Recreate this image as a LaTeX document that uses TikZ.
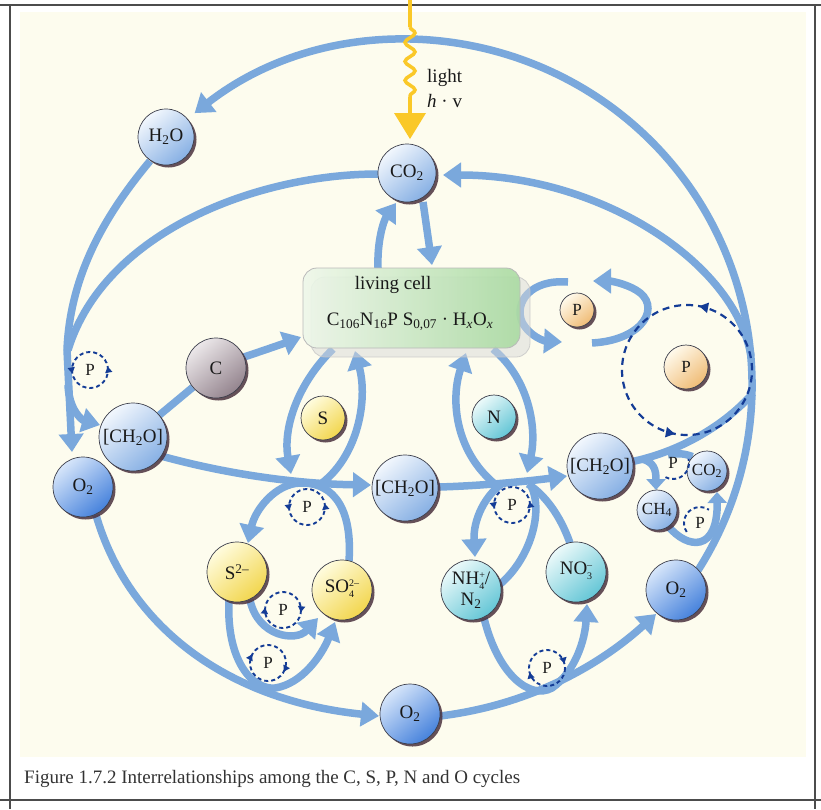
\documentclass[tikz,border=0pt]{standalone}
\usepackage{fontspec}
\setmainfont{Liberation Serif}
\usetikzlibrary{arrows.meta,decorations.pathmorphing,decorations.markings,shadows}
\definecolor{lineblue}{RGB}{122,168,220}
\definecolor{dashblue}{RGB}{20,60,150}
\definecolor{shadowc}{RGB}{75,50,62}
\definecolor{ballline}{RGB}{60,62,75}
\definecolor{lightyel}{RGB}{250,200,40}
\definecolor{panel}{RGB}{253,252,238}
\definecolor{bTop}{RGB}{242,247,253}\definecolor{bBot}{RGB}{135,176,228}
\definecolor{oTop}{RGB}{215,230,250}\definecolor{oBot}{RGB}{70,130,220}
\definecolor{cTop}{RGB}{236,232,234}\definecolor{cBot}{RGB}{148,132,142}
\definecolor{sTop}{RGB}{255,252,222}\definecolor{sBot}{RGB}{242,214,78}
\definecolor{nTop}{RGB}{236,250,250}\definecolor{nBot}{RGB}{100,198,214}
\definecolor{pTop}{RGB}{255,250,236}\definecolor{pBot}{RGB}{240,188,118}
\definecolor{cellL}{RGB}{238,247,234}\definecolor{cellR}{RGB}{168,218,160}
\pgfdeclarelayer{back}\pgfdeclarelayer{bg}\pgfsetlayers{back,bg,main}
\newcommand\ballfont{\fontsize{19}{19}\selectfont}
\newcommand\smallballfont{\fontsize{17}{17}\selectfont}
\newcommand\subsup[2]{{\fontsize{10}{10.5}\selectfont\begin{tabular}[c]{@{}l@{}}#2\\#1\end{tabular}}}
\newcommand\pcyc[5]{%
  \node[plabel] (#1) at (#2) {P};
  \draw[dcyc, decoration={markings,
     mark=at position #4 with {\arrow{Triangle[length=6pt,width=7pt]}},
     mark=at position #5 with {\arrow{Triangle[length=6pt,width=7pt]}}}]
    (#2) ++(18,0) arc[start angle=0, end angle=#3, radius=18];}
\begin{document}
\begin{tikzpicture}[x=1pt,y=-1pt,
  ballbase/.style={circle, draw=ballline, line width=0.7pt, inner sep=0pt, font=\ballfont, text=black!90,
     drop shadow={shadow xshift=2.5pt, shadow yshift=-2.5pt, fill=shadowc, opacity=0.85}},
  bball/.style={ballbase, top color=bTop, bottom color=bBot, shading angle=40},
  oball/.style={ballbase, top color=oTop, bottom color=oBot, shading angle=40},
  cball/.style={ballbase, top color=cTop, bottom color=cBot, shading angle=40},
  sball/.style={ballbase, top color=sTop, bottom color=sBot, shading angle=40},
  nball/.style={ballbase, top color=nTop, bottom color=nBot, shading angle=40},
  pball/.style={ballbase, top color=pTop, bottom color=pBot, shading angle=40},
  flow/.style={draw=lineblue, line width=7.5pt},
  flowa/.style={flow, -{Triangle[length=18pt,width=24pt]}},
  flows/.style={flow, -{Triangle[length=11pt,width=19pt]}},
  dcyc/.style={draw=dashblue, line width=1.9pt, dash pattern=on 4pt off 3pt, postaction={decorate}},
  plabel/.style={font=\fontsize{17}{17}\selectfont, inner sep=0pt, text=black!88},
  txt/.style={font=\fontsize{19}{21}\selectfont, text=black!90, inner sep=0pt}
]
\useasboundingbox (0,0) rectangle (821,809);
\begin{pgfonlayer}{back}
  \fill[white] (0,0) rectangle (821,809);
  \fill[panel] (20,12) rectangle (806,757);
  \draw[black!70, line width=1.4pt] (0,5) -- (821,5) (10,5) -- (10,809) (815,5) -- (815,809) (0,800) -- (821,800);
\end{pgfonlayer}

% living cell
\fill[gray!30, opacity=0.5, rounded corners=14pt] (311,277) rectangle (530,357);
\draw[gray!45, line width=0.8pt, opacity=0.8, rounded corners=14pt] (311,277) rectangle (530,357);
\node[draw=gray!55, line width=0.8pt, rounded corners=14pt, left color=cellL, right color=cellR,
  minimum width=217pt, minimum height=80pt, fill opacity=0.88] (cell) at (411.5,308) {};
\node[txt] (lc) at (393,285) {living cell};
\node[txt] (form) at (410,322) {C\textsubscript{106}N\textsubscript{16}P S\textsubscript{0,07} · H\textsubscript{\textit{x}}O\textsubscript{\textit{x}}};

% balls
\node[bball, minimum size=56pt] (H2O) at (166,137) {H\textsubscript{2}O};
\node[bball, minimum size=58pt] (CO2) at (407,173) {CO\textsubscript{2}};
\node[cball, minimum size=60pt] (C) at (216,368) {C};
\node[sball, minimum size=44pt] (S) at (323,418) {S};
\node[nball, minimum size=44pt] (N) at (494,417) {N};
\node[pball, minimum size=34pt, font=\smallballfont] (Ps) at (577,310) {P};
\node[pball, minimum size=44pt, font=\smallballfont] (Pl) at (686,367) {P};
\node[bball, minimum size=68pt] (CHL) at (133,437) {[CH\textsubscript{2}O]};
\node[oball, minimum size=60pt] (O2L) at (83,487) {O\textsubscript{2}};
\node[bball, minimum size=66pt] (CHM) at (405,488) {[CH\textsubscript{2}O]};
\node[bball, minimum size=66pt] (CHR) at (600,466) {[CH\textsubscript{2}O]};
\node[bball, minimum size=40pt, font=\smallballfont] (CO2R) at (707,471) {CO\textsubscript{2}};
\node[bball, minimum size=40pt, font=\smallballfont] (CH4) at (657,510) {CH\textsubscript{4}};
\node[sball, minimum size=60pt] (S2) at (237,572) {S\textsuperscript{2–}};
\node[sball, minimum size=60pt] (SO4) at (342,590) {SO\subsup{4}{2–}};
\node[nball, minimum size=60pt, align=center] (NH4) at (471,590) {NH\subsup{4}{+}/\\N\textsubscript{2}};
\node[nball, minimum size=60pt] (NO3) at (576,572) {NO\subsup{3}{–}};
\node[oball, minimum size=60pt] (O2R) at (676,590) {O\textsubscript{2}};
\node[oball, minimum size=60pt] (O2B) at (410,714) {O\textsubscript{2}};

% connectors
\begin{pgfonlayer}{bg}
\draw[flowa] (407,385) ++(33:345) arc[start angle=33, end angle=-128, radius=345];
\draw[flowa] (751,356) .. controls (735,262) and (600,175) .. (443,175);
\draw[flow] (630,462) .. controls (680,452) and (725,425) .. (753,393);
\draw[flows] (642,459) .. controls (654,462) and (656,470) .. (656,490);
\draw[flow] (668,455) .. controls (680,452) and (688,455) .. (CO2R.north west);
\draw[flows] (668,526) .. controls (688,550) and (718,552) .. (717,492);
\draw[flowa] (440,716) .. controls (530,705) and (600,665) .. (656,614);
\draw[flowa] (484,618) .. controls (498,675) and (530,700) .. (552,688) .. controls (575,672) and (585,640) .. (587,604);
\draw[flowa] (96,515) .. controls (128,625) and (225,700) .. (379,716);
\draw[flowa] (229,600) .. controls (226,660) and (252,690) .. (275,688) .. controls (302,684) and (322,655) .. (335,622);
\draw[flowa] (250,600) .. controls (258,637) and (296,642) .. (318,618);
\draw[flowa] (349,561) .. controls (353,500) and (327,482) .. (300,483) .. controls (275,484) and (255,510) .. (248,543);
\draw[flowa] (161,456) .. controls (230,475) and (300,484) .. (371,485);
\draw[flowa] (438,487) .. controls (480,486) and (530,481) .. (567,476);
\draw[flowa] (244,357) .. controls (265,350) and (285,343) .. (301,337);
\draw[flow] (CHL) -- (C);
\draw[flowa] (150,161) .. controls (105,215) and (70,275) .. (67,350) -- (72,452);
\draw[flowa] (68,385) .. controls (69,410) and (82,420) .. (100,425);
\draw[flow] (378,174) .. controls (260,174) and (105,230) .. (68,350);
\draw[flowa] (378,268) .. controls (377,240) and (384,220) .. (396,203);
\draw[flowa] (423,202) -- (432,265);
\draw[flowa] (333,349) .. controls (296,385) and (283,430) .. (291,474);
\draw[flowa] (322,483) .. controls (358,455) and (368,400) .. (355,351);
\draw[flowa] (493,349) .. controls (530,380) and (537,430) .. (527,473);
\draw[flowa] (500,488) .. controls (455,455) and (450,400) .. (466,353);
\draw[flowa] (503,483) .. controls (485,495) and (473,520) .. (475,557);
\draw[flow] (499,585) .. controls (530,560) and (545,510) .. (530,484);
\draw[flow] (570,543) .. controls (560,515) and (545,495) .. (528,484);
\draw[flowa] (568,282) .. controls (530,279) and (514,303) .. (522,322) .. controls (530,337) and (545,341) .. (562,342);
\draw[flowa] (592,343) .. controls (645,340) and (662,305) .. (636,290) .. controls (624,283) and (610,281) .. (593,281);
\end{pgfonlayer}

% light
\draw[lightyel, line width=3.5pt] (410,0) -- (410,27);
\draw[lightyel, line width=3.5pt, decorate, decoration={snake, segment length=19pt, amplitude=5pt}] (410,27) -- (410,98);
\draw[lightyel, line width=3.5pt] (410,97) -- (410,116);
\fill[lightyel] (394,113) -- (426,113) -- (410,139) -- cycle;
\node[txt, anchor=west] (lt) at (427,78) {light};
\node[txt, anchor=west] (hv) at (427,101) {\textit{h} · v};

% dashed P cycles
\pcyc{dp1}{90,370}{-360}{0.03}{0.53}
\pcyc{dp2}{307,507}{-360}{0.03}{0.53}
\pcyc{dp3}{512,505}{-360}{0.03}{0.53}
\pcyc{dp4}{283,610}{360}{0.02}{0.52}
\pcyc{dp5}{268,663}{360}{0.08}{0.58}
\pcyc{dp6}{547,668}{360}{0.46}{0.96}
\draw[dcyc, line width=2.2pt, dash pattern=on 7pt off 5pt, decoration={markings,
     mark=at position 0.22 with {\arrow{Triangle[length=9pt,width=10pt]}},
     mark=at position 0.72 with {\arrow{Triangle[length=9pt,width=10pt]}}}]
   (687,370) ++(65,0) arc[start angle=0, end angle=-360, radius=65];
\node[plabel] (p7) at (673,463) {P};
\draw[draw=dashblue, line width=1.9pt, dash pattern=on 4pt off 3pt] (673,463) ++(118:16) arc[start angle=118, end angle=-15, radius=16];
\node[plabel] (p8) at (700,523) {P};
\draw[draw=dashblue, line width=1.9pt, dash pattern=on 4pt off 3pt] (700,523) ++(146:16) arc[start angle=146, end angle=304, radius=16];

% caption
\node[font=\fontsize{19}{21}\selectfont, text=black!80, anchor=west, inner sep=0pt] (cap) at (24,779)
  {Figure 1.7.2 Interrelationships among the C, S, P, N and O cycles};
\end{tikzpicture}
\end{document}
